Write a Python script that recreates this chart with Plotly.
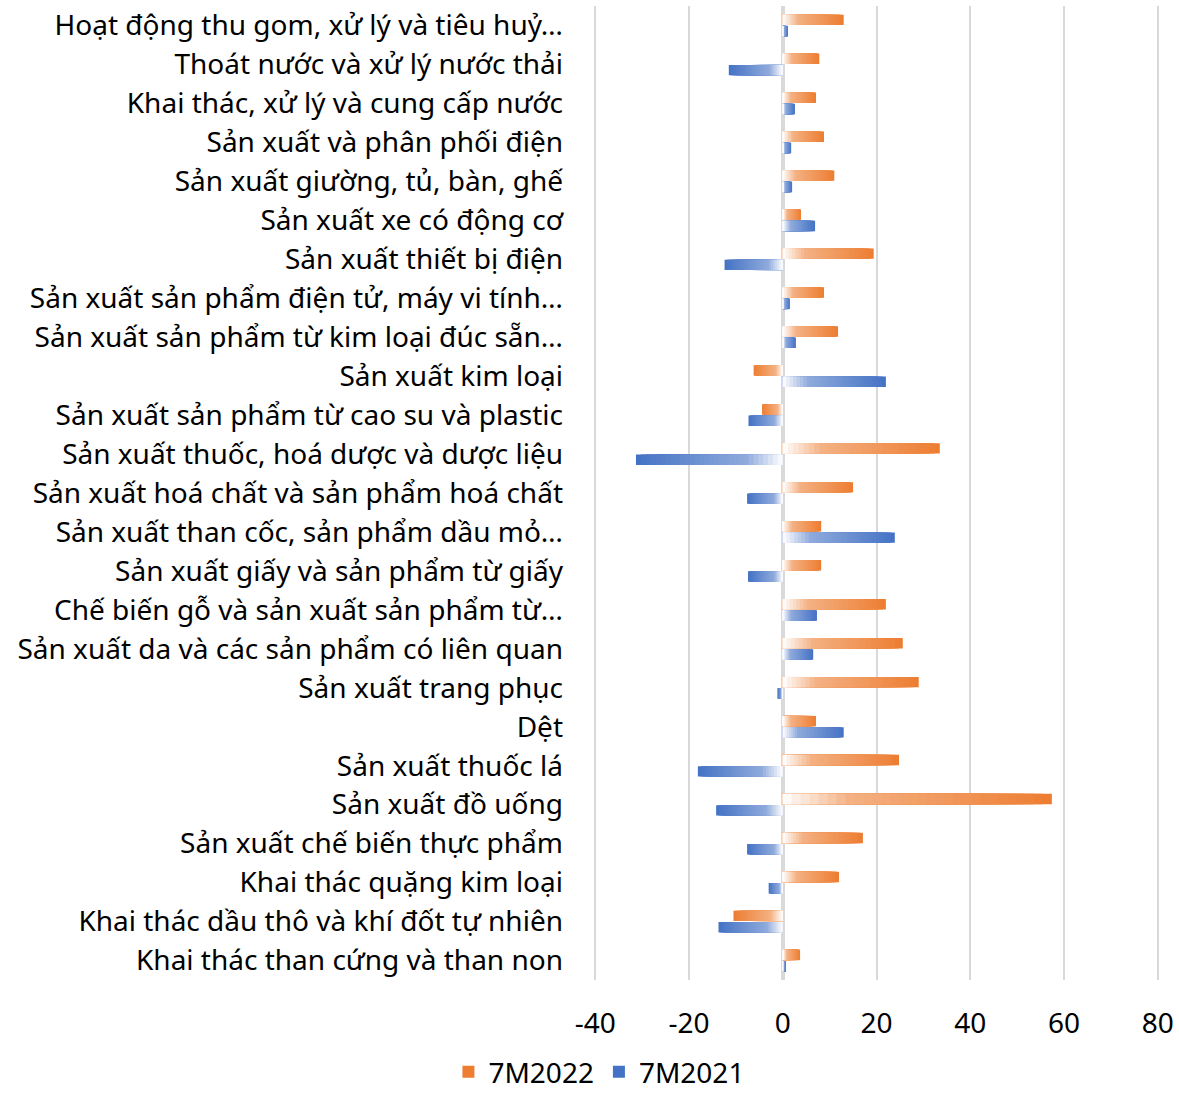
import plotly.graph_objects as go

# Categories, bottom -> top (as plotted)
categories = [
    "Khai thác than cứng và than non",
    "Khai thác dầu thô và khí đốt tự nhiên",
    "Khai thác quặng kim loại",
    "Sản xuất chế biến thực phẩm",
    "Sản xuất đồ uống",
    "Sản xuất thuốc lá",
    "Dệt",
    "Sản xuất trang phục",
    "Sản xuất da và các sản phẩm có liên quan",
    "Chế biến gỗ và sản xuất sản phẩm từ…",
    "Sản xuất giấy và sản phẩm từ giấy",
    "Sản xuất than cốc, sản phẩm dầu mỏ…",
    "Sản xuất hoá chất và sản phẩm hoá chất",
    "Sản xuất thuốc, hoá dược và dược liệu",
    "Sản xuất sản phẩm từ cao su và plastic",
    "Sản xuất kim loại",
    "Sản xuất sản phẩm từ kim loại đúc sẵn…",
    "Sản xuất sản phẩm điện tử, máy vi tính…",
    "Sản xuất thiết bị điện",
    "Sản xuất xe có động cơ",
    "Sản xuất giường, tủ, bàn, ghế",
    "Sản xuất và phân phối điện",
    "Khai thác, xử lý và cung cấp nước",
    "Thoát nước và xử lý nước thải",
    "Hoạt động thu gom, xử lý và tiêu huỷ…",
]

values_7m2022 = [3.7, -10.5, 12.0, 17.1, 57.4, 24.8, 7.1, 29.0, 25.6, 22.0,
                 8.2, 8.2, 15.0, 33.5, -4.4, -6.2, 11.8, 8.8, 19.4, 3.9,
                 11.0, 8.8, 7.1, 7.8, 13.0]
values_7m2021 = [0.7, -13.7, -3.0, -7.6, -14.2, -18.1, 13.0, -1.1, 6.5, 7.3,
                 -7.4, 23.9, -7.6, -31.3, -7.3, 22.0, 2.8, 1.5, -12.4, 6.9,
                 2.0, 1.8, 2.6, -11.5, 1.1]

x_tick_values = [-40, -20, 0, 20, 40, 60, 80]
x_tick_text = ["-40", "-20", "0", "20", "40", "60", "80"]

FONT = "Noto Sans"
FS = 28


def blend(c1, c2, t):
    r = [int(round(a + (b - a) * t)) for a, b in zip(c1, c2)]
    return "rgb(%d,%d,%d)" % tuple(r)


def grad_color(full, light, p):
    white = (255, 255, 255)
    if p < 0.25:
        return blend(white, light, p / 0.25)
    return blend(light, full, (p - 0.25) / 0.75)


series = [
    ("7M2021", values_7m2021, (68, 114, 196), (143, 170, 220), 2),
    ("7M2022", values_7m2022, (237, 125, 49), (244, 177, 131), 1),
]

STEPS = 30
fig = go.Figure()
for name, vals, full, light, rank in series:
    for k in range(STEPS):
        f = 1 - k / STEPS
        p = f - 0.5 / STEPS if k > 0 else 1.0
        fig.add_trace(go.Bar(
            y=categories,
            x=[v * f for v in vals],
            orientation="h",
            name=name,
            offsetgroup=name,
            marker=dict(color=grad_color(full, light, p), line=dict(width=0)),
            showlegend=(k == 0),
            legendrank=rank,
            hoverinfo="skip" if k > 0 else None,
        ))

fig.update_layout(
    width=1179,
    height=1095,
    barmode="group",
    bargap=0.42,
    bargroupgap=0.08,
    plot_bgcolor="white",
    paper_bgcolor="white",
    margin=dict(l=594, r=20, t=6, b=115),
    font=dict(family=FONT, size=FS, color="black"),
    legend=dict(
        orientation="h",
        xref="container", yref="container",
        x=0.508, xanchor="center",
        y=0.021, yanchor="middle",
        font=dict(size=FS),
        itemwidth=30,
        traceorder="normal",
    ),
)

fig.update_xaxes(
    range=[-40.25, 80.25],
    tickvals=x_tick_values,
    ticktext=x_tick_text,
    showgrid=True,
    gridcolor="#d9d9d9",
    gridwidth=1.5,
    zeroline=True,
    zerolinecolor="#d9d9d9",
    zerolinewidth=4,
    showline=False,
    ticks="",
    layer="above traces",
    ticklabelstandoff=24,
    tickfont=dict(size=FS),
    automargin=False,
)
fig.update_yaxes(
    categoryorder="array",
    categoryarray=categories,
    range=[-0.5, len(categories) - 0.5],
    showgrid=False,
    showline=False,
    ticks="",
    ticklabelstandoff=30,
    tickfont=dict(size=FS),
    automargin=False,
)

fig.write_html("out.html", config={"displayModeBar": False},
               post_script="document.body.style.margin='0px';")
